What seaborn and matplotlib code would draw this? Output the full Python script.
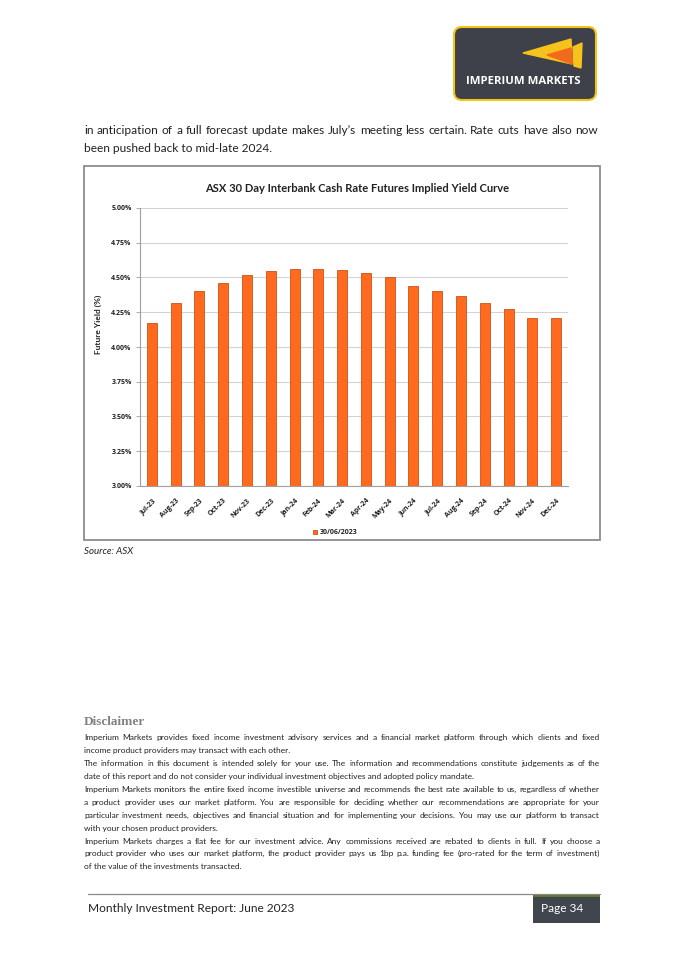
import numpy as np
import pandas as pd
import matplotlib.pyplot as plt
from matplotlib.patches import Rectangle, FancyBboxPatch, Polygon
from matplotlib.font_manager import FontProperties
import seaborn as sns

sns.set_theme(style="white")
plt.rcParams['font.family'] = 'Lato'

# chart data
months = ['Jul-23', 'Aug-23', 'Sep-23', 'Oct-23', 'Nov-23', 'Dec-23', 'Jan-24', 'Feb-24', 'Mar-24',
          'Apr-24', 'May-24', 'Jun-24', 'Jul-24', 'Aug-24', 'Sep-24', 'Oct-24', 'Nov-24', 'Dec-24']
yields = [4.17, 4.32, 4.40, 4.46, 4.52, 4.55, 4.56, 4.56, 4.555,
          4.53, 4.50, 4.44, 4.40, 4.37, 4.32, 4.27, 4.21, 4.21]
series_date = '30/06/2023'
yticks = [3.00, 3.25, 3.50, 3.75, 4.00, 4.25, 4.50, 4.75, 5.00]

# page text
intro_lines = ["in anticipation of a full forecast update makes July\u2019s meeting less certain. Rate cuts have also now",
               "been pushed back to mid-late 2024."]
disclaimer_lines = [
    "Imperium Markets provides fixed income investment advisory services and a financial market platform through which clients and fixed",
    "income product providers may transact with each other.",
    "The information in this document is intended solely for your use. The information and recommendations constitute judgements as of the",
    "date of this report and do not consider your individual investment objectives and adopted policy mandate.",
    "Imperium Markets monitors the entire fixed income investible universe and recommends the best rate available to us, regardless of whether",
    "a product provider uses our market platform. You are responsible for deciding whether our recommendations are appropriate for your",
    "particular investment needs, objectives and financial situation and for implementing your decisions. You may use our platform to transact",
    "with your chosen product providers.",
    "Imperium Markets charges a flat fee for our investment advice. Any commissions received are rebated to clients in full. If you choose a",
    "product provider who uses our market platform, the product provider pays us 1bp p.a. funding fee (pro-rated for the term of investment)",
    "of the value of the investments transacted.",
]
disclaimer_last = [1, 3, 7, 10]  # paragraph ends, not justified

W, H = 682, 965
fig = plt.figure(figsize=(W / 100, H / 100), dpi=100)
page = fig.add_axes([0, 0, 1, 1])
page.set_xlim(0, W)
page.set_ylim(H, 0)
page.axis('off')
renderer = fig.canvas.get_renderer()


def line(ax, text, x0, x1, y, fs, just=True, color='#222222'):
    # y is the visual middle of the line; all words share one whole-pixel baseline
    yb = round(y + 0.36 * fs * 100 / 72)
    if not just:
        ax.text(x0, yb, text, va='baseline', ha='left', fontsize=fs, color=color)
        return
    fp = FontProperties(family='Lato', size=fs)
    words = text.split()
    widths = [renderer.get_text_width_height_descent(w, fp, ismath=False)[0] for w in words]
    gap = (x1 - x0 - sum(widths)) / (len(words) - 1)
    x = x0
    for w, wd in zip(words, widths):
        ax.text(x, yb, w, va='baseline', ha='left', fontproperties=fp, color=color)
        x += wd + gap


# logo
page.add_patch(FancyBboxPatch((454, 27), 142, 73, boxstyle="round,pad=0,rounding_size=8",
                              facecolor='#3E4149', edgecolor='#F2C418', lw=1.5))
page.add_patch(Polygon([(523, 53), (571, 39), (572, 64)], closed=True, color='#F8C21C'))
page.add_patch(Polygon([(547, 55), (571, 48), (572, 64)], closed=True, color='#F26B1D'))
page.add_patch(Polygon([(573, 47), (582, 43), (581, 68), (574, 66)], closed=True, color='#F8C21C'))
page.text(523, 82, 'IMPERIUM MARKETS', color='white', fontsize=8.2, fontweight='bold',
          ha='center', va='center', family='Open Sans')

# intro paragraph
line(page, intro_lines[0], 84, 598, 130, 8.6)
line(page, intro_lines[1], 84, 598, 148, 8.6, just=False)

# chart frame and title
page.add_patch(Rectangle((84, 166), 516, 374, fill=False, edgecolor='#8C8C8C', lw=1.3))
page.text(357, 189, 'ASX 30 Day Interbank Cash Rate Futures Implied Yield Curve',
          fontsize=8.0, fontweight='bold', ha='center', va='center', color='#222222')
page.text(84, 551, 'Source: ASX', fontsize=7, style='italic', va='center', color='#222222')

# bar chart
ax = fig.add_axes([140 / W, 1 - 486 / H, (568 - 140) / W, (486 - 208) / H])
df = pd.DataFrame({'month': months, 'yield': yields, 'date': series_date})
sns.barplot(data=df, x='month', y='yield', hue='date', palette=['#FF6A1F'], saturation=1,
            width=0.42, edgecolor='#C9521A', linewidth=0.6, ax=ax, zorder=3)
ax.set_ylim(3.0, 5.0)
ax.set_xlim(-0.5, len(months) - 0.5)
ax.set_yticks(yticks)
ax.set_yticklabels(['%.2f%%' % v for v in yticks])
ax.yaxis.grid(True, color='#D3D3D3', lw=0.8, zorder=0)
ax.set_axisbelow(True)
for s in ['top', 'right']:
    ax.spines[s].set_visible(False)
for s in ['left', 'bottom']:
    ax.spines[s].set_color('#A0A0A0')
    ax.spines[s].set_linewidth(0.8)
tick_font = 'Open Sans'
ax.tick_params(axis='y', left=True, length=3, width=0.6, color='#A0A0A0', pad=3,
               labelsize=5, labelcolor='#222222')
ax.tick_params(axis='x', bottom=False, pad=2, labelsize=5, labelcolor='#222222')
for lab in ax.get_yticklabels():
    lab.set_fontweight('bold')
    lab.set_family(tick_font)
for lab in ax.get_xticklabels():
    lab.set_fontweight('bold')
    lab.set_family(tick_font)
    lab.set_rotation(45)
    lab.set_ha('right')
    lab.set_rotation_mode('anchor')
ax.set_xlabel('')
ax.set_ylabel('Future Yield (%)', fontsize=6, fontweight='bold', color='#222222')
ax.yaxis.set_label_coords(-0.088, 0.58)
ax.legend(loc='center', bbox_to_anchor=(0.456, -0.169), frameon=False,
          handlelength=0.6, handleheight=0.6, handletextpad=0.3,
          prop={'weight': 'bold', 'size': 5, 'family': tick_font})

# disclaimer
page.text(84, 722, 'Disclaimer', fontsize=9.5, fontweight='bold', color='#808080', va='center',
          family='Liberation Serif')
for i, txt in enumerate(disclaimer_lines):
    line(page, txt, 84, 600, 737.3 + 12.9 * i, 6.0, just=i not in disclaimer_last)

# footer
page.plot([88, 600], [894, 894], color='#8A8A8A', lw=0.9)
page.text(88, 908, 'Monthly Investment Report: June 2023', fontsize=8.6, color='#222222', va='center')
page.add_patch(Rectangle((533, 896), 67, 27, facecolor='#41454E', edgecolor='none'))
page.add_patch(Rectangle((533, 894.5), 67, 2.5, facecolor='#5B7A2B', edgecolor='none'))
page.text(541, 908, 'Page 34', fontsize=8.6, color='white', va='center')

fig.savefig('out.png', dpi=100)
